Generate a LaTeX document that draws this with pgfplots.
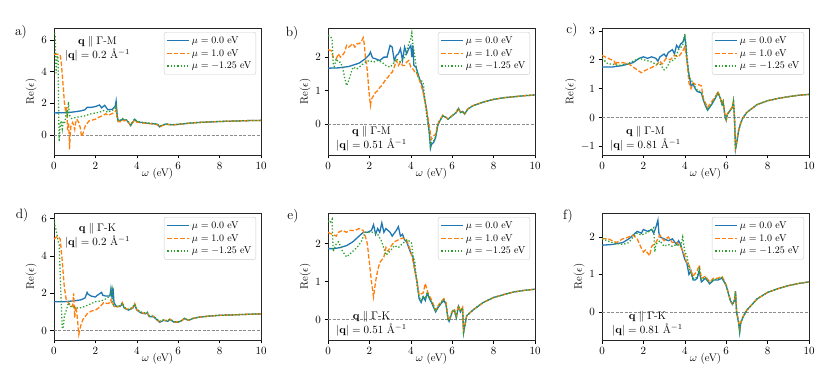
\documentclass[border=0pt]{standalone}
\usepackage{fix-cm}
\usepackage{pgfplots}
\pgfplotsset{compat=1.18}
\usepgfplotslibrary{groupplots}
\usetikzlibrary{calc}
\definecolor{c0}{HTML}{1F77B4}
\definecolor{c1}{HTML}{FF7F0E}
\definecolor{c2}{HTML}{2CA02C}

\pgfplotsset{
  sA/.style={color=c0, line width=1.3pt},
  sB/.style={color=c1, line width=1.3pt, dash pattern=on 4.5pt off 2pt},
  sC/.style={color=c2, line width=1.3pt, dash pattern=on 1.3pt off 2pt},
  zero/.style={color=black!45, line width=0.6pt, dash pattern=on 3pt off 1.5pt, forget plot},
}
\newcommand{\annot}[3]{\node[align=center, font=\fontsize{11}{12.5}\selectfont] at (rel axis cs:#1) {#2\\#3};}
\newcommand{\leg}{\legend{$\mu=0.0$ eV, $\mu=1.0$ eV, $\mu=-1.25$ eV}}

\begin{document}
\begin{tikzpicture}
\begin{groupplot}[
  group style={group size=3 by 2, horizontal sep=67pt, vertical sep=58pt},
  width=207pt, height=127pt, scale only axis,
  xmin=0, xmax=10, xtick={0,2,...,10},
  tick align=outside, xtick pos=bottom, ytick pos=left,
  major tick length=3.5pt,
  tick style={black, line width=0.6pt},
  axis line style={line width=0.7pt, black!85},
  ticklabel style={font=\fontsize{11}{13}\selectfont},
  label style={font=\fontsize{11}{13}\selectfont},
  xlabel={$\omega$ (eV)}, ylabel={Re($\epsilon$)},
  xlabel style={yshift=8pt}, ylabel style={yshift=-2pt},
  legend style={at={(0.976,0.968)}, anchor=north east,
    font=\fontsize{10}{11}\selectfont, draw=black!20, rounded corners=2pt,
    fill=white, inner xsep=2.5pt, inner ysep=2pt,
    nodes={inner ysep=2.2pt}},
  legend cell align=left,
  legend image code/.code={\draw[mark repeat=2,mark phase=2,#1] plot coordinates {(0pt,0pt) (11pt,0pt) (22pt,0pt)};},
]
% a) q || Gamma-M, 0.2
\nextgroupplot[ymin=-1.25, ymax=6.75, ytick={0,2,4,6}]
\addplot[zero] coordinates {(0,0) (10,0)};
\addplot[sA] coordinates {(0,1.4) (0.5,1.41) (0.8,1.44) (1.0,1.47) (1.3,1.53) (1.5,1.6) (1.6,1.75) (1.8,1.75) (2.0,1.8) (2.2,1.9) (2.3,1.72) (2.45,1.88) (2.6,1.6) (2.8,1.62) (2.95,1.8) (3.0,2.15) (3.05,1.3) (3.1,0.88) (3.2,0.9) (3.3,1.0) (3.4,0.95) (3.5,0.95) (3.6,0.8) (3.7,0.6) (3.8,0.8) (3.9,1.0) (4.0,0.85) (4.2,0.8) (4.5,0.75) (4.8,0.72) (5.0,0.68) (5.1,0.52) (5.2,0.6) (5.4,0.7) (5.7,0.65) (6.0,0.68) (6.5,0.75) (7.0,0.8) (7.5,0.83) (8.0,0.86) (8.5,0.88) (9.0,0.9) (9.5,0.92) (10,0.93)};
\addplot[sB] coordinates {(0,5.1) (0.1,5.1) (0.2,5.1) (0.3,5.05) (0.35,4.6) (0.4,3.8) (0.45,3.0) (0.5,2.1) (0.55,1.6) (0.6,1.8) (0.63,1.2) (0.66,0.3) (0.7,0.8) (0.73,0.2) (0.75,-0.9) (0.78,0.0) (0.82,0.6) (0.9,0.8) (0.95,0.6) (1.0,0.35) (1.05,0.8) (1.1,1.0) (1.2,0.8) (1.28,0.4) (1.33,-0.1) (1.4,0.1) (1.5,0.55) (1.6,0.75) (1.7,0.9) (1.85,0.95) (2.0,1.0) (2.2,1.15) (2.4,1.25) (2.5,1.35) (2.6,1.25) (2.8,1.35) (2.95,1.45) (3.0,1.6) (3.05,1.1) (3.1,0.85) (3.2,0.85) (3.3,0.95) (3.4,0.9) (3.5,0.95) (3.6,0.8) (3.7,0.62) (3.8,0.8) (3.9,0.95) (4.0,0.82) (4.2,0.78) (4.5,0.74) (4.8,0.7) (5.0,0.65) (5.1,0.5) (5.2,0.58) (5.4,0.68) (5.7,0.64) (6.0,0.67) (6.5,0.75) (7.0,0.8) (7.5,0.83) (8.0,0.86) (8.5,0.88) (9.0,0.9) (9.5,0.92) (10,0.93)};
\addplot[sC] coordinates {(0,6.4) (0.03,6.4) (0.06,6.2) (0.1,3.9) (0.13,4.5) (0.17,5.0) (0.2,4.8) (0.22,2.0) (0.25,-0.4) (0.28,0.3) (0.3,0.6) (0.35,0.9) (0.4,0.4) (0.45,0.9) (0.5,0.7) (0.55,1.0) (0.6,1.55) (0.65,1.3) (0.7,2.1) (0.73,1.5) (0.77,1.2) (0.85,1.05) (1.0,1.1) (1.2,1.15) (1.5,1.22) (1.8,1.35) (2.0,1.4) (2.2,1.45) (2.4,1.55) (2.6,1.45) (2.8,1.55) (2.95,1.65) (3.0,1.95) (3.05,1.2) (3.1,0.9) (3.2,0.95) (3.3,1.05) (3.4,0.98) (3.5,0.97) (3.6,0.82) (3.7,0.65) (3.8,0.85) (3.9,1.02) (4.0,0.88) (4.2,0.82) (4.5,0.77) (4.8,0.73) (5.0,0.7) (5.1,0.55) (5.2,0.62) (5.4,0.71) (5.7,0.66) (6.0,0.69) (6.5,0.75) (7.0,0.8) (7.5,0.83) (8.0,0.86) (8.5,0.88) (9.0,0.9) (9.5,0.92) (10,0.93)};
\leg
\annot{0.21,0.835}{$\mathbf{q}\parallel\Gamma$-M}{$|\mathbf{q}|=0.2$ \AA$^{-1}$}
% b) q || Gamma-M, 0.51
\nextgroupplot[ymin=-0.92, ymax=2.87, ytick={0,1,2}]
\addplot[zero] coordinates {(0,0) (10,0)};
\addplot[sA] coordinates {(0,1.67) (0.5,1.68) (1.0,1.72) (1.5,1.82) (1.8,1.95) (2.0,2.08) (2.05,2.15) (2.15,1.98) (2.3,1.95) (2.5,1.9) (2.7,2.0) (2.85,2.0) (3.0,2.35) (3.1,2.3) (3.2,1.9) (3.3,2.05) (3.4,2.1) (3.5,2.25) (3.6,1.9) (3.7,2.3) (3.8,2.1) (3.9,2.25) (4.0,2.35) (4.05,2.0) (4.1,2.35) (4.15,1.75) (4.25,1.7) (4.35,1.5) (4.45,1.3) (4.55,1.15) (4.65,0.8) (4.75,0.5) (4.85,0.0) (4.9,-0.3) (4.95,-0.72) (5.0,-0.6) (5.1,-0.55) (5.2,-0.4) (5.3,-0.05) (5.4,0.1) (5.55,0.25) (5.7,0.2) (5.8,0.15) (6.0,0.25) (6.2,0.35) (6.3,0.47) (6.4,0.35) (6.5,0.38) (6.6,0.3) (6.75,0.45) (7.0,0.55) (7.5,0.66) (8.0,0.74) (8.5,0.79) (9.0,0.82) (9.5,0.85) (10,0.87)};
\addplot[sB] coordinates {(0,2.22) (0.15,2.2) (0.25,2.0) (0.4,1.95) (0.5,2.1) (0.6,2.0) (0.7,2.05) (0.8,2.15) (0.9,2.35) (1.0,2.3) (1.1,2.35) (1.2,2.4) (1.3,2.3) (1.4,2.4) (1.5,2.4) (1.6,2.45) (1.7,2.58) (1.75,2.4) (1.8,2.05) (1.9,1.6) (1.95,1.2) (2.0,0.85) (2.05,0.56) (2.1,0.75) (2.2,0.85) (2.3,0.95) (2.4,1.0) (2.5,1.1) (2.6,1.15) (2.7,1.25) (2.8,1.35) (2.9,1.4) (3.0,1.5) (3.1,1.55) (3.2,1.7) (3.3,1.9) (3.4,1.75) (3.5,1.85) (3.6,1.75) (3.7,1.75) (3.8,1.85) (3.9,1.9) (4.0,1.7) (4.1,1.65) (4.2,1.55) (4.3,1.5) (4.4,1.35) (4.5,1.15) (4.6,0.95) (4.7,0.6) (4.8,0.3) (4.9,-0.1) (5.0,-0.45) (5.1,-0.35) (5.2,-0.3) (5.3,0.0) (5.4,0.12) (5.55,0.27) (5.7,0.2) (5.8,0.16) (6.0,0.26) (6.2,0.36) (6.3,0.48) (6.4,0.36) (6.5,0.38) (6.6,0.31) (6.75,0.45) (7.0,0.55) (7.5,0.66) (8.0,0.74) (8.5,0.79) (9.0,0.82) (9.5,0.85) (10,0.87)};
\addplot[sC] coordinates {(0,2.65) (0.1,2.62) (0.2,2.55) (0.25,1.8) (0.3,1.72) (0.4,1.95) (0.5,1.85) (0.6,1.85) (0.7,1.7) (0.8,1.4) (0.9,1.15) (1.0,1.3) (1.1,1.5) (1.2,1.7) (1.4,1.65) (1.6,1.75) (1.8,1.85) (2.0,1.9) (2.2,1.85) (2.4,1.9) (2.6,1.85) (2.8,1.75) (3.0,1.7) (3.15,1.8) (3.3,1.95) (3.5,1.85) (3.7,2.0) (3.8,2.2) (3.9,2.4) (4.0,2.55) (4.05,2.72) (4.1,2.4) (4.2,2.0) (4.3,1.5) (4.4,1.35) (4.5,1.3) (4.6,1.25) (4.7,0.6) (4.8,0.1) (4.9,-0.3) (4.95,-0.65) (5.0,-0.55) (5.1,-0.5) (5.2,-0.38) (5.3,-0.03) (5.4,0.1) (5.55,0.25) (5.7,0.2) (5.8,0.15) (6.0,0.25) (6.2,0.35) (6.3,0.47) (6.4,0.35) (6.5,0.38) (6.6,0.3) (6.75,0.45) (7.0,0.55) (7.5,0.66) (8.0,0.74) (8.5,0.79) (9.0,0.82) (9.5,0.85) (10,0.87)};
\leg
\annot{0.21,0.13}{$\mathbf{q}\parallel\Gamma$-M}{$|\mathbf{q}|=0.51$ \AA$^{-1}$}
% c) q || Gamma-M, 0.81
\nextgroupplot[ymin=-1.3, ymax=3.1, ytick={-1,0,1,2,3}]
\addplot[zero] coordinates {(0,0) (10,0)};
\addplot[sA] coordinates {(0,1.75) (0.5,1.75) (1.0,1.8) (1.5,1.9) (1.7,2.0) (1.8,2.05) (2.0,2.1) (2.2,2.05) (2.4,2.1) (2.6,2.05) (2.7,1.95) (2.8,2.1) (3.0,2.2) (3.1,2.1) (3.2,2.25) (3.4,2.35) (3.5,2.2) (3.6,2.5) (3.7,2.4) (3.8,2.55) (3.9,2.6) (4.0,2.8) (4.05,2.5) (4.1,2.0) (4.2,1.5) (4.3,1.1) (4.4,1.15) (4.5,1.0) (4.6,0.9) (4.8,0.85) (4.9,0.6) (5.0,0.4) (5.1,0.25) (5.3,0.45) (5.5,0.7) (5.6,0.85) (5.7,0.7) (5.8,0.45) (5.85,0.55) (5.95,0.0) (6.0,-0.1) (6.05,0.1) (6.2,0.25) (6.3,0.35) (6.35,0.55) (6.4,0.0) (6.45,-1.1) (6.5,-0.9) (6.6,-0.45) (6.7,-0.2) (6.8,-0.02) (7.0,0.18) (7.5,0.45) (8.0,0.58) (8.5,0.66) (9.0,0.72) (9.5,0.77) (10,0.8)};
\addplot[sB] coordinates {(0,2.15) (0.3,2.05) (0.6,1.95) (0.65,1.8) (0.7,1.9) (1.0,1.9) (1.3,1.85) (1.5,1.75) (1.7,1.65) (1.9,1.55) (2.0,1.6) (2.3,1.7) (2.6,1.8) (2.8,1.95) (2.9,1.85) (3.1,2.05) (3.3,2.0) (3.5,2.15) (3.7,2.1) (3.9,2.3) (4.0,2.45) (4.1,2.0) (4.2,1.2) (4.3,1.0) (4.4,1.2) (4.5,1.15) (4.6,1.15) (4.8,1.1) (4.9,0.65) (5.0,0.5) (5.1,0.35) (5.3,0.55) (5.5,0.75) (5.6,0.9) (5.7,0.72) (5.8,0.47) (5.85,0.56) (5.95,0.02) (6.0,-0.08) (6.05,0.12) (6.2,0.27) (6.3,0.37) (6.35,0.55) (6.4,0.0) (6.45,-1.05) (6.5,-0.88) (6.6,-0.45) (6.7,-0.2) (6.8,-0.02) (7.0,0.18) (7.5,0.45) (8.0,0.58) (8.5,0.66) (9.0,0.72) (9.5,0.77) (10,0.8)};
\addplot[sC] coordinates {(0,2.05) (0.3,1.85) (0.5,1.85) (0.8,1.8) (1.2,1.85) (1.5,1.95) (1.8,2.05) (2.0,2.0) (2.3,1.95) (2.6,1.85) (2.8,1.85) (2.9,1.75) (3.0,1.65) (3.1,1.7) (3.3,1.95) (3.5,2.0) (3.7,2.35) (3.9,2.5) (4.0,2.9) (4.05,2.6) (4.1,2.2) (4.2,1.4) (4.3,1.3) (4.4,1.2) (4.5,1.05) (4.6,0.95) (4.8,0.88) (4.9,0.62) (5.0,0.42) (5.1,0.28) (5.3,0.47) (5.5,0.72) (5.6,0.87) (5.7,0.71) (5.8,0.46) (5.85,0.55) (5.95,0.0) (6.0,-0.1) (6.05,0.1) (6.2,0.25) (6.3,0.35) (6.35,0.55) (6.4,0.0) (6.45,-1.1) (6.5,-0.9) (6.6,-0.45) (6.7,-0.2) (6.8,-0.02) (7.0,0.18) (7.5,0.45) (8.0,0.58) (8.5,0.66) (9.0,0.72) (9.5,0.77) (10,0.8)};
\leg
\annot{0.21,0.13}{$\mathbf{q}\parallel\Gamma$-M}{$|\mathbf{q}|=0.81$ \AA$^{-1}$}
% d) q || Gamma-K, 0.2
\nextgroupplot[ymin=-0.5, ymax=6.3, ytick={0,2,4,6}]
\addplot[zero] coordinates {(0,0) (10,0)};
\addplot[sA] coordinates {(0,1.55) (0.5,1.55) (1.0,1.6) (1.3,1.65) (1.5,1.75) (1.6,2.05) (1.65,1.95) (1.8,1.85) (2.0,1.8) (2.1,1.9) (2.3,2.05) (2.35,1.9) (2.5,1.85) (2.7,1.85) (2.75,2.25) (2.8,1.8) (2.85,2.3) (2.9,1.5) (3.0,1.3) (3.2,1.3) (3.3,1.45) (3.4,1.2) (3.6,1.1) (3.8,1.2) (3.9,1.4) (4.0,1.1) (4.2,0.95) (4.4,0.9) (4.5,0.95) (4.6,0.75) (4.8,0.75) (5.0,0.55) (5.1,0.45) (5.3,0.55) (5.5,0.5) (5.6,0.6) (5.8,0.45) (6.0,0.45) (6.2,0.55) (6.3,0.65) (6.5,0.55) (6.7,0.65) (7.0,0.72) (7.5,0.78) (8.0,0.82) (8.5,0.84) (9.0,0.86) (9.5,0.88) (10,0.9)};
\addplot[sB] coordinates {(0,4.9) (0.1,5.0) (0.2,5.05) (0.3,4.9) (0.4,3.7) (0.5,2.3) (0.6,1.6) (0.7,1.5) (0.8,1.3) (0.9,1.3) (0.95,2.0) (1.0,0.7) (1.05,1.3) (1.1,1.0) (1.15,0.4) (1.2,-0.2) (1.3,0.3) (1.4,0.6) (1.6,0.9) (1.8,1.05) (2.0,1.1) (2.2,1.25) (2.4,1.5) (2.6,1.45) (2.7,1.5) (2.75,1.65) (2.8,1.4) (2.85,1.45) (2.9,1.3) (3.0,1.25) (3.2,1.32) (3.3,1.5) (3.4,1.22) (3.6,1.12) (3.8,1.22) (3.9,1.45) (4.0,1.12) (4.2,0.97) (4.4,0.92) (4.5,0.97) (4.6,0.78) (4.8,0.77) (5.0,0.58) (5.1,0.48) (5.3,0.57) (5.5,0.52) (5.6,0.62) (5.8,0.47) (6.0,0.47) (6.2,0.56) (6.3,0.66) (6.5,0.56) (6.7,0.65) (7.0,0.72) (7.5,0.78) (8.0,0.82) (8.5,0.84) (9.0,0.86) (9.5,0.88) (10,0.9)};
\addplot[sC] coordinates {(0,6.0) (0.05,5.6) (0.1,5.4) (0.2,4.8) (0.25,4.6) (0.3,3.0) (0.35,1.5) (0.4,0.1) (0.45,0.2) (0.5,0.8) (0.6,1.1) (0.7,1.5) (0.8,1.3) (1.0,1.25) (1.2,1.2) (1.5,1.3) (1.8,1.45) (2.0,1.55) (2.3,1.6) (2.5,1.7) (2.7,1.85) (2.8,2.25) (2.85,1.4) (3.0,1.3) (3.2,1.33) (3.3,1.48) (3.4,1.24) (3.6,1.14) (3.8,1.25) (3.9,1.42) (4.0,1.15) (4.2,1.0) (4.4,0.95) (4.5,1.0) (4.6,0.8) (4.8,0.78) (5.0,0.6) (5.1,0.5) (5.3,0.58) (5.5,0.53) (5.6,0.62) (5.8,0.48) (6.0,0.48) (6.2,0.56) (6.3,0.66) (6.5,0.56) (6.7,0.65) (7.0,0.72) (7.5,0.78) (8.0,0.82) (8.5,0.84) (9.0,0.86) (9.5,0.88) (10,0.9)};
\leg
\annot{0.21,0.82}{$\mathbf{q}\parallel\Gamma$-K}{$|\mathbf{q}|=0.2$ \AA$^{-1}$}
% e) q || Gamma-K, 0.51
\nextgroupplot[ymin=-0.54, ymax=2.81, ytick={0,1,2}]
\addplot[zero] coordinates {(0,0) (10,0)};
\addplot[sA] coordinates {(0,1.87) (0.3,1.87) (0.6,1.9) (0.9,1.95) (1.2,2.05) (1.5,2.2) (1.7,2.3) (1.9,2.3) (2.1,2.35) (2.2,2.5) (2.3,2.25) (2.4,2.4) (2.5,2.3) (2.6,2.55) (2.7,2.3) (2.8,2.4) (3.0,2.3) (3.1,2.2) (3.3,2.35) (3.4,2.45) (3.5,2.2) (3.6,2.25) (3.7,2.1) (3.8,2.05) (3.9,1.9) (4.0,1.75) (4.1,1.65) (4.2,1.3) (4.3,1.0) (4.4,0.55) (4.5,0.45) (4.6,0.6) (4.7,0.5) (4.8,0.7) (4.9,0.55) (5.0,0.45) (5.2,0.2) (5.3,0.3) (5.5,0.45) (5.6,0.5) (5.7,0.4) (5.8,0.0) (5.85,-0.05) (6.0,0.2) (6.1,0.25) (6.2,0.05) (6.3,0.35) (6.4,0.2) (6.5,0.3) (6.55,-0.35) (6.6,-0.2) (6.7,0.1) (6.9,0.2) (7.0,0.25) (7.5,0.45) (8.0,0.58) (8.5,0.66) (9.0,0.73) (9.5,0.77) (10,0.8)};
\addplot[sB] coordinates {(0,2.3) (0.2,2.25) (0.4,2.2) (0.5,2.3) (0.7,2.35) (0.9,2.3) (1.0,2.35) (1.3,2.35) (1.5,2.4) (1.7,2.35) (1.8,2.2) (1.9,2.0) (2.0,1.5) (2.1,1.0) (2.2,0.6) (2.3,1.0) (2.4,1.3) (2.5,1.5) (2.7,1.65) (2.8,1.9) (2.9,1.8) (3.0,1.9) (3.2,2.05) (3.4,2.1) (3.6,2.15) (3.8,2.1) (4.0,1.8) (4.1,1.55) (4.3,1.0) (4.4,0.65) (4.6,0.7) (4.7,0.95) (4.8,0.75) (4.9,0.62) (5.0,0.52) (5.2,0.25) (5.3,0.35) (5.5,0.5) (5.6,0.55) (5.7,0.45) (5.8,0.03) (5.85,-0.02) (6.0,0.22) (6.1,0.28) (6.2,0.08) (6.3,0.38) (6.4,0.22) (6.5,0.32) (6.55,-0.3) (6.6,-0.18) (6.7,0.1) (6.9,0.2) (7.0,0.25) (7.5,0.45) (8.0,0.58) (8.5,0.66) (9.0,0.73) (9.5,0.77) (10,0.8)};
\addplot[sC] coordinates {(0,2.6) (0.1,2.55) (0.2,2.65) (0.25,1.8) (0.3,1.85) (0.4,2.0) (0.5,2.05) (0.6,1.95) (0.7,1.8) (0.9,1.65) (1.0,1.7) (1.2,1.8) (1.4,1.9) (1.6,2.05) (1.8,2.3) (2.0,2.3) (2.2,2.3) (2.4,2.25) (2.6,2.05) (2.8,1.7) (3.0,1.8) (3.2,1.95) (3.4,1.9) (3.6,2.0) (3.8,2.1) (4.0,2.05) (4.05,2.0) (4.1,1.7) (4.2,1.5) (4.3,0.9) (4.4,0.6) (4.5,0.5) (4.6,0.62) (4.7,0.55) (4.8,0.72) (4.9,0.57) (5.0,0.47) (5.2,0.22) (5.3,0.32) (5.5,0.47) (5.6,0.52) (5.7,0.42) (5.8,0.01) (5.85,-0.04) (6.0,0.21) (6.1,0.26) (6.2,0.06) (6.3,0.36) (6.4,0.21) (6.5,0.31) (6.55,-0.33) (6.6,-0.19) (6.7,0.1) (6.9,0.2) (7.0,0.25) (7.5,0.45) (8.0,0.58) (8.5,0.66) (9.0,0.73) (9.5,0.77) (10,0.8)};
\leg
\annot{0.21,0.13}{$\mathbf{q}\parallel\Gamma$-K}{$|\mathbf{q}|=0.51$ \AA$^{-1}$}
% f) q || Gamma-K, 0.81
\nextgroupplot[ymin=-0.75, ymax=2.64, ytick={0,1,2}]
\addplot[zero] coordinates {(0,0) (10,0)};
\addplot[sA] coordinates {(0,1.78) (0.5,1.8) (1.0,1.85) (1.3,1.95) (1.5,2.05) (1.7,2.15) (1.9,2.1) (2.0,2.2) (2.2,2.15) (2.4,2.2) (2.5,2.1) (2.6,2.25) (2.7,2.45) (2.75,2.1) (2.8,2.0) (3.0,1.95) (3.2,1.9) (3.4,1.95) (3.6,1.8) (3.7,1.9) (3.8,1.8) (3.9,1.6) (4.0,1.4) (4.1,1.3) (4.2,1.0) (4.3,1.1) (4.4,0.85) (4.5,0.85) (4.6,0.9) (4.7,1.1) (4.8,0.8) (5.0,0.9) (5.2,0.75) (5.4,0.85) (5.6,0.85) (5.8,0.9) (6.0,0.7) (6.2,0.3) (6.3,0.2) (6.4,0.3) (6.45,0.55) (6.5,0.0) (6.6,-0.3) (6.65,-0.55) (6.7,-0.3) (6.8,-0.15) (6.9,-0.05) (7.0,0.05) (7.5,0.35) (8.0,0.52) (8.5,0.62) (9.0,0.7) (9.5,0.76) (10,0.8)};
\addplot[sB] coordinates {(0,1.95) (0.3,1.95) (0.5,1.9) (0.7,1.85) (1.0,1.95) (1.3,2.0) (1.5,2.05) (1.7,1.95) (1.9,1.7) (2.0,1.6) (2.1,1.65) (2.3,1.5) (2.4,1.75) (2.6,1.85) (2.8,2.05) (3.0,1.9) (3.2,2.0) (3.4,1.85) (3.6,1.85) (3.8,1.75) (4.0,1.5) (4.1,1.3) (4.2,1.25) (4.4,0.95) (4.6,1.1) (4.7,1.25) (4.8,0.9) (5.0,0.95) (5.2,0.8) (5.4,0.9) (5.6,0.9) (5.8,0.95) (6.0,0.72) (6.2,0.32) (6.3,0.22) (6.4,0.32) (6.45,0.55) (6.5,0.02) (6.6,-0.25) (6.65,-0.45) (6.7,-0.28) (6.8,-0.14) (6.9,-0.04) (7.0,0.05) (7.5,0.35) (8.0,0.52) (8.5,0.62) (9.0,0.7) (9.5,0.76) (10,0.8)};
\addplot[sC] coordinates {(0,1.95) (0.5,1.85) (1.0,1.8) (1.3,1.85) (1.5,2.0) (1.7,2.1) (1.9,2.05) (2.1,2.1) (2.3,2.15) (2.5,2.25) (2.55,1.6) (2.6,1.8) (2.8,1.9) (3.0,1.75) (3.2,1.8) (3.4,1.75) (3.6,1.8) (3.8,1.75) (3.9,2.0) (4.0,1.6) (4.1,1.5) (4.2,1.2) (4.3,1.0) (4.4,0.9) (4.5,0.88) (4.6,0.95) (4.7,1.15) (4.8,0.85) (5.0,0.92) (5.2,0.78) (5.4,0.87) (5.6,0.87) (5.8,0.92) (6.0,0.71) (6.2,0.31) (6.3,0.21) (6.4,0.31) (6.45,0.55) (6.5,0.01) (6.6,-0.28) (6.65,-0.5) (6.7,-0.29) (6.8,-0.15) (6.9,-0.05) (7.0,0.05) (7.5,0.35) (8.0,0.52) (8.5,0.62) (9.0,0.7) (9.5,0.76) (10,0.8)};
\leg
\annot{0.22,0.13}{$\mathbf{q}\parallel\Gamma$-K}{$|\mathbf{q}|=0.81$ \AA$^{-1}$}
\end{groupplot}
\begin{scope}[every node/.style={font=\fontsize{13.5}{15}\selectfont}]
\node at ($(group c1r1.north west)+(-33pt,-4pt)$) {a)};
\node at ($(group c2r1.north west)+(-36pt,-5pt)$) {b)};
\node at ($(group c3r1.north west)+(-30pt,-2pt)$) {c)};
\node at ($(group c1r2.north west)+(-32pt,-2pt)$) {d)};
\node at ($(group c2r2.north west)+(-35pt,-3pt)$) {e)};
\node at ($(group c3r2.north west)+(-34pt,-3pt)$) {f)};
\end{scope}
\pgfresetboundingbox
\path ($(group c1r1.north west)+(-54pt,28pt)$) rectangle ++(822pt,-370pt);
\end{tikzpicture}
\end{document}
